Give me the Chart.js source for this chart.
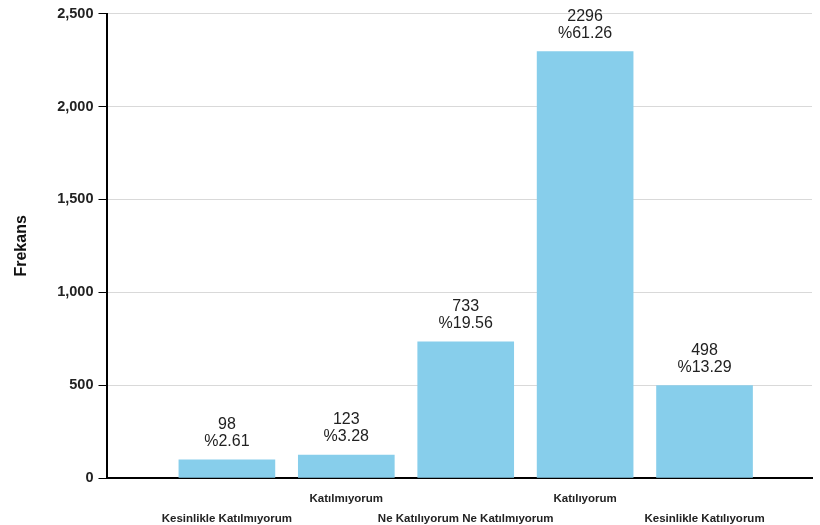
<!DOCTYPE html>
<html>
<head>
<meta charset="utf-8">
<script src="https://cdn.jsdelivr.net/npm/chart.js@4"></script>
<style>
  html, body { margin: 0; padding: 0; background: #fff; }
  #wrap { width: 820px; height: 525px; }
</style>
</head>
<body>
<div id="wrap"><canvas id="chart"></canvas></div>
<script>
// 범주, 빈도, 백분율
const categories = ["Kesinlikle Katılmıyorum", "Katılmıyorum", "Ne Katılıyorum Ne Katılmıyorum", "Katılıyorum", "Kesinlikle Katılıyorum"];
const counts = [98, 123, 733, 2296, 498];
const percents = ["2.61", "3.28", "19.56", "61.26", "13.29"];
const yTicks = [0, 500, 1000, 1500, 2000, 2500];

// 막대 위에 빈도와 % 표시
const barLabels = {
  id: "barLabels",
  afterDatasetsDraw(chart) {
    const ctx = chart.ctx;
    const meta = chart.getDatasetMeta(0);
    ctx.save();
    ctx.font = "16px 'Liberation Sans', Arial, sans-serif";
    ctx.fillStyle = "#222";
    ctx.textAlign = "center";
    ctx.textBaseline = "alphabetic";
    meta.data.forEach((bar, i) => {
      ctx.fillText(String(counts[i]), bar.x, bar.y - 31);
      ctx.fillText("%" + percents[i], bar.x, bar.y - 14);
    });
    ctx.restore();
  }
};

new Chart(document.getElementById("chart"), {
  type: "bar",
  data: {
    datasets: [{
      data: counts.map((v, i) => ({ x: i + 1, y: v })),
      backgroundColor: "#87ceeb",
      barThickness: 96
    }]
  },
  plugins: [barLabels],
  options: {
    responsive: true, maintainAspectRatio: false, animation: false,
    layout: { padding: { top: 6, right: 8, left: 8, bottom: 0 } },
    plugins: { legend: { display: false }, tooltip: { enabled: false } },
    scales: {
      x: {
        type: "linear", min: 0, max: 5.9, offset: false,
        afterBuildTicks: ax => { ax.ticks = categories.map((c, i) => ({ value: i + 1 })); },
        afterFit: ax => { ax.height = 47; },
        grid: { display: false, drawTicks: false },
        border: { display: true, color: "#000", width: 2 },
        ticks: {
          autoSkip: false, maxRotation: 0, padding: 11, color: "#222",
          font: { family: "'Liberation Sans', Arial, sans-serif", size: 11.5, weight: "bold", lineHeight: 1.75 },
          callback: (v, i) => i % 2 === 0 ? ["", categories[i]] : categories[i]
        }
      },
      y: {
        min: 0, max: 2500,
        afterBuildTicks: ax => { ax.ticks = yTicks.map(v => ({ value: v })); },
        grid: { color: "#d9d9d9", tickColor: "#000", tickLength: 9, lineWidth: 1 },
        border: { display: true, color: "#000", width: 2 },
        ticks: {
          color: "#222", padding: 5,
          font: { family: "'Liberation Sans', Arial, sans-serif", size: 14.5, weight: "bold" },
          callback: v => v.toLocaleString("en-US")
        },
        title: {
          display: true, text: "Frekans", color: "#111", padding: { bottom: 21 },
          font: { family: "'Liberation Sans', Arial, sans-serif", size: 16, weight: "bold" }
        }
      }
    }
  }
});
</script>
</body>
</html>
